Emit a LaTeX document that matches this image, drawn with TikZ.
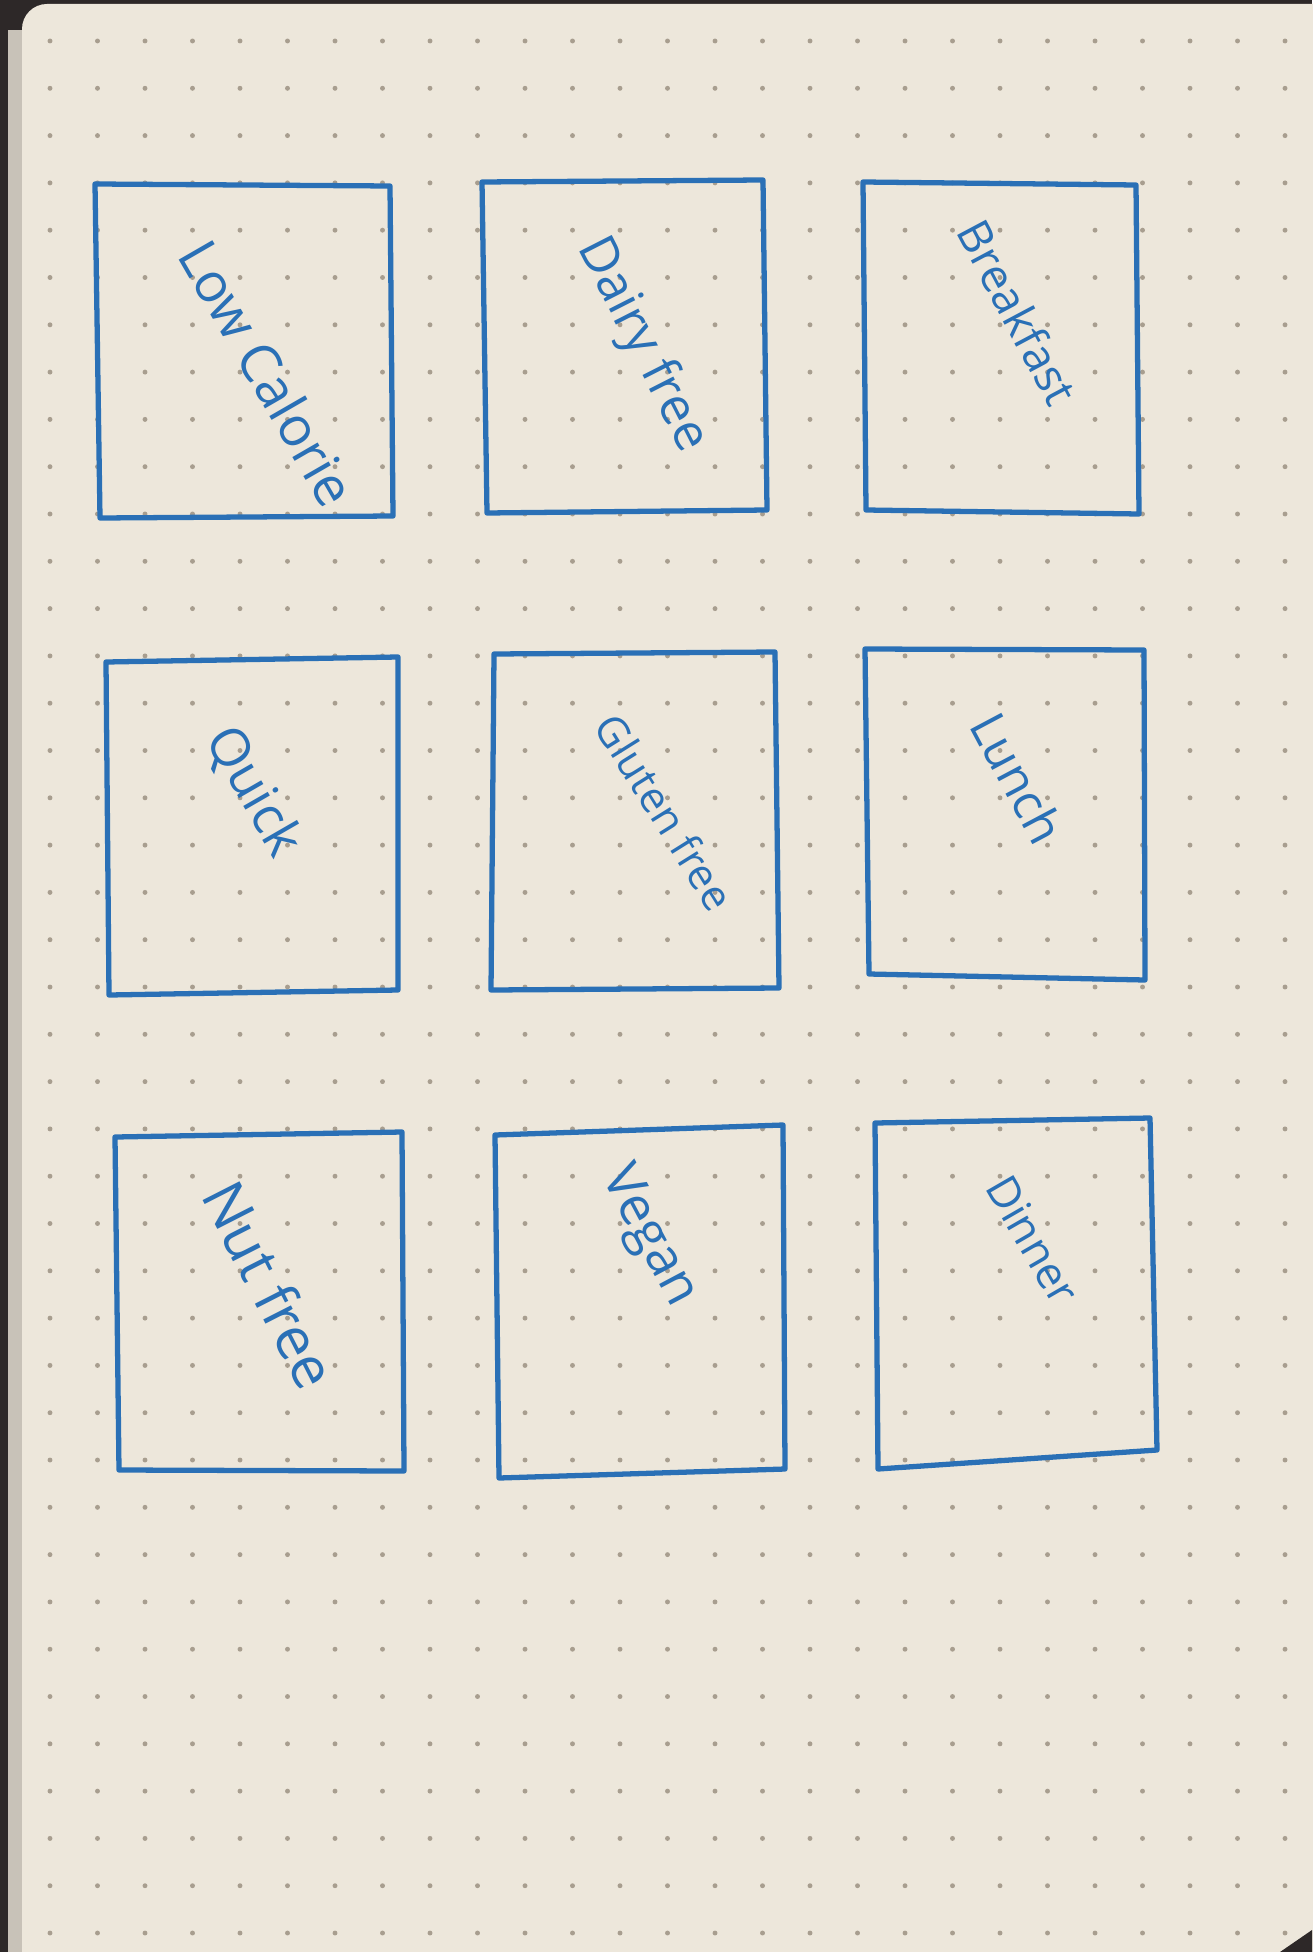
\documentclass[tikz,border=0pt]{standalone}
\usepackage{fontspec}
\setmainfont{Open Sans}
\usepackage{tikz}
\usetikzlibrary{calc}
\definecolor{inkblue}{RGB}{42,112,182}
\definecolor{papercolor}{RGB}{237,231,219}
\definecolor{dotgrey}{RGB}{168,158,143}
\definecolor{deskdark}{RGB}{45,40,40}
\definecolor{pageedge}{RGB}{200,194,184}

\begin{document}
\begin{tikzpicture}[x=0.01cm, y=-0.01cm,
        inkline/.style={draw=inkblue, line width=1.5pt, line join=round, line cap=round},
        catlabel/.style={text=inkblue, inner sep=0pt, font=\fontsize{15}{18}\selectfont}]
        \useasboundingbox (0,0) rectangle (1312,1952);
        \fill[deskdark] (0,0) rectangle (1312,1952);
        \fill[pageedge] (8,30) rectangle (40,1952);
        \fill[papercolor, rounded corners=2.5mm] (22,4) rectangle (1340,1990);
        \fill[deskdark] (1312,1930) -- (1312,1952) -- (1280,1952) -- cycle;
        
        \foreach \i in {0,...,26}
            \foreach \j in {0,...,40}
                \fill[dotgrey] (50+47.5*\i, 41+47.3*\j) circle (0.7pt);
        
        \draw[inkline] (95,184) -- (390,186) -- (393,516) -- (100,518) -- cycle;
        \draw[inkline] (482,182) -- (763,180) -- (767,510) -- (487,513) -- cycle;
        \draw[inkline] (863,182) -- (1136,185) -- (1139,514) -- (866,510) -- cycle;
        
        \draw[inkline] (106,662) -- (398,657) -- (398,990) -- (109,995) -- cycle;
        \draw[inkline] (494,654) -- (775,652) -- (779,988) -- (491,990) -- cycle;
        \draw[inkline] (865,649) -- (1144,650) -- (1145,980) -- (869,974) -- cycle;
        
        \draw[inkline] (115,1137) -- (402,1132) -- (404,1471) -- (119,1470) -- cycle;
        \draw[inkline] (495,1135) -- (783,1125) -- (785,1469) -- (499,1478) -- cycle;
        \draw[inkline] (875,1123) -- (1150,1118) -- (1157,1450) -- (878,1469) -- cycle;
        
        \node[catlabel, rotate=-60, font=\fontsize{15.5}{18}\selectfont] (lowcal) at (268,373) {Low Calorie};
        \node[catlabel, rotate=-63, font=\fontsize{14.5}{18}\selectfont] (dairy) at (642,345) {Dairy free};
        \node[catlabel, rotate=-62, font=\fontsize{13}{16}\selectfont] (breakfast) at (1018,312) {Breakfast};
        
        \node[catlabel, rotate=-60] (quick) at (253,792) {Quick};
        \node[catlabel, rotate=-58, font=\fontsize{12}{14}\selectfont] (gluten) at (665,812) {Gluten free};
        \node[catlabel, rotate=-62, font=\fontsize{14}{17}\selectfont] (lunch) at (1018,778) {Lunch};
        
        \node[catlabel, rotate=-63, font=\fontsize{16.5}{19}\selectfont] (nutfree) at (270,1285) {Nut free};
        \node[catlabel, rotate=-62] (vegan) at (648,1237) {Vegan};
        \node[catlabel, rotate=-60, font=\fontsize{12.5}{15}\selectfont] (dinner) at (1033,1240) {Dinner};
    \end{tikzpicture}
\end{document}
